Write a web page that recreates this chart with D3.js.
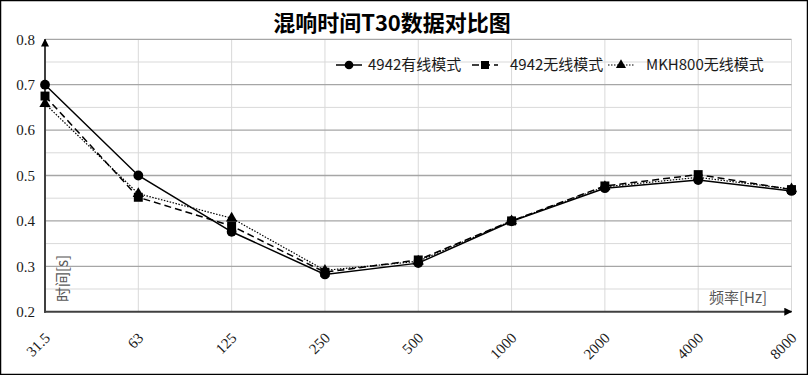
<!DOCTYPE html>
<html>
<head>
<meta charset="utf-8">
<script src="https://cdn.jsdelivr.net/npm/d3@7"></script>
<style>
  body { margin: 0; background: #fff; }
  svg { display: block; }
</style>
</head>
<body>
<div id="chart"></div>
<script>
// data
var categories = ['31.5', '63', '125', '250', '500', '1000', '2000', '4000', '8000'];
var wired4942 = [0.700, 0.500, 0.376, 0.282, 0.307, 0.399, 0.472, 0.490, 0.466];
var wireless4942 = [0.675, 0.452, 0.389, 0.287, 0.314, 0.400, 0.477, 0.502, 0.469];
var wirelessMKH800 = [0.658, 0.460, 0.406, 0.291, 0.311, 0.400, 0.475, 0.496, 0.470];
var seriesNames = ['4942有线模式', '4942无线模式', 'MKH800无线模式'];
var yTicks = [0.2, 0.3, 0.4, 0.5, 0.6, 0.7, 0.8];
var yMinor = [0.25, 0.35, 0.45, 0.55, 0.65, 0.75];

document.addEventListener('DOMContentLoaded', function() {
  var width = 808;
  var height = 375;

  var svg = d3.select('#chart').append('svg')
              .attr('width', width)
              .attr('height', height);

  // outer frame
  svg.append('rect')
     .attr('x', 0.5).attr('y', 0.5)
     .attr('width', width - 1).attr('height', height - 1)
     .attr('fill', '#fff')
     .attr('stroke', '#000')
     .attr('stroke-width', 1.5);

  var x = d3.scalePoint().domain(categories).range([45, 791.5]);
  var y = d3.scaleLinear().domain([0.2, 0.8]).range([311.7, 39.3]);

  var g = svg.append('g');

  // gridlines
  g.selectAll('.vgrid').data(categories.slice(1)).enter().append('line')
   .attr('x1', function(d) { return x(d); })
   .attr('x2', function(d) { return x(d); })
   .attr('y1', y(0.8)).attr('y2', y(0.2))
   .attr('stroke', '#d9d9d9').attr('stroke-width', 1);

  g.selectAll('.minor').data(yMinor).enter().append('line')
   .attr('x1', x('31.5')).attr('x2', x('8000'))
   .attr('y1', function(d) { return y(d); })
   .attr('y2', function(d) { return y(d); })
   .attr('stroke', '#d9d9d9').attr('stroke-width', 1);

  g.selectAll('.major').data(yTicks.slice(1)).enter().append('line')
   .attr('x1', x('31.5')).attr('x2', x('8000'))
   .attr('y1', function(d) { return y(d); })
   .attr('y2', function(d) { return y(d); })
   .attr('stroke', '#a6a6a6').attr('stroke-width', 1.3);

  // arrow markers
  var defs = svg.append('defs');
  defs.append('marker')
      .attr('id', 'arrow')
      .attr('viewBox', '0 0 10 10')
      .attr('refX', 9).attr('refY', 5)
      .attr('markerWidth', 4).attr('markerHeight', 4)
      .attr('markerUnits', 'strokeWidth')
      .attr('orient', 'auto')
      .append('path')
      .attr('d', 'M0,0 L10,5 L0,10 Z')
      .attr('fill', '#000');

  // axes
  g.append('line')
   .attr('x1', x('31.5')).attr('x2', x('31.5'))
   .attr('y1', y(0.2) + 1).attr('y2', y(0.8))
   .attr('stroke', '#404040').attr('stroke-width', 2)
   .attr('marker-end', 'url(#arrow)');

  g.append('line')
   .attr('x1', x('31.5') - 1).attr('x2', x('8000'))
   .attr('y1', y(0.2)).attr('y2', y(0.2))
   .attr('stroke', '#404040').attr('stroke-width', 2)
   .attr('marker-end', 'url(#arrow)');

  // y tick labels
  g.selectAll('.ylab').data(yTicks).enter().append('text')
   .attr('x', 35)
   .attr('y', function(d) { return y(d); })
   .attr('dy', '0.35em')
   .attr('text-anchor', 'end')
   .attr('font-family', 'Liberation Serif, serif')
   .attr('font-size', 15)
   .attr('fill', '#1a1a1a')
   .text(function(d) { return d.toFixed(1); });

  // x tick labels
  g.selectAll('.xlab').data(categories).enter().append('text')
   .attr('transform', function(d) { return 'translate(' + (x(d) + 6) + ',339) rotate(-45)'; })
   .attr('text-anchor', 'end')
   .attr('font-family', 'Liberation Serif, serif')
   .attr('font-size', 15)
   .attr('fill', '#1a1a1a')
   .text(function(d) { return d; });

  // axis titles
  g.append('text')
   .attr('transform', 'translate(68,302) rotate(-90)')
   .attr('font-family', 'Noto Sans CJK SC, sans-serif')
   .attr('font-size', 15)
   .attr('fill', '#595959')
   .text('时间[s]');

  g.append('text')
   .attr('x', 709).attr('y', 303)
   .attr('font-family', 'Noto Sans CJK SC, sans-serif')
   .attr('font-size', 15)
   .attr('fill', '#595959')
   .text('频率[Hz]');

  // title
  svg.append('text')
     .attr('x', 392).attr('y', 31)
     .attr('text-anchor', 'middle')
     .attr('font-family', 'Noto Sans CJK SC, serif')
     .attr('font-weight', 'bold')
     .attr('font-size', 22)
     .attr('fill', '#000')
     .text('混响时间T30数据对比图');

  // series
  var series = [
    { name: seriesNames[0], values: wired4942, dash: null, width: 1.5, shape: d3.symbolCircle, size: 75 },
    { name: seriesNames[1], values: wireless4942, dash: '7,4', width: 1.5, shape: d3.symbolSquare, size: 80 },
    { name: seriesNames[2], values: wirelessMKH800, dash: '1.5,1.5', width: 1.2, shape: d3.symbolTriangle, size: 55 }
  ];

  var line = d3.line()
               .x(function(d, i) { return x(categories[i]); })
               .y(function(d) { return y(d); });

  series.slice().reverse().forEach(function(s) {
    g.append('path')
     .attr('d', line(s.values))
     .attr('fill', 'none')
     .attr('stroke', '#000')
     .attr('stroke-width', s.width)
     .attr('stroke-dasharray', s.dash);

    g.selectAll(null).data(s.values).enter().append('path')
     .attr('transform', function(d, i) { return 'translate(' + x(categories[i]) + ',' + y(d) + ')'; })
     .attr('d', d3.symbol().type(s.shape).size(s.size))
     .attr('fill', '#000');
  });

  // legend
  var legendX = [336, 472, 608];
  var legend = svg.append('g');
  series.forEach(function(s, i) {
    var lg = legend.append('g').attr('transform', 'translate(' + legendX[i] + ',65)');
    lg.append('line')
      .attr('x1', 0).attr('x2', 26)
      .attr('stroke', '#000')
      .attr('stroke-width', s.width)
      .attr('stroke-dasharray', s.dash);
    lg.append('path')
      .attr('transform', 'translate(13,0)')
      .attr('d', d3.symbol().type(s.shape).size(s.size * 0.8))
      .attr('fill', '#000');
    lg.append('text')
      .attr('x', i === 0 ? 32 : 38)
      .attr('dy', '0.35em')
      .attr('font-family', 'Noto Sans CJK SC, sans-serif')
      .attr('font-size', 15)
      .attr('fill', '#1a1a1a')
      .text(s.name);
  });
});
</script>
</body>
</html>
